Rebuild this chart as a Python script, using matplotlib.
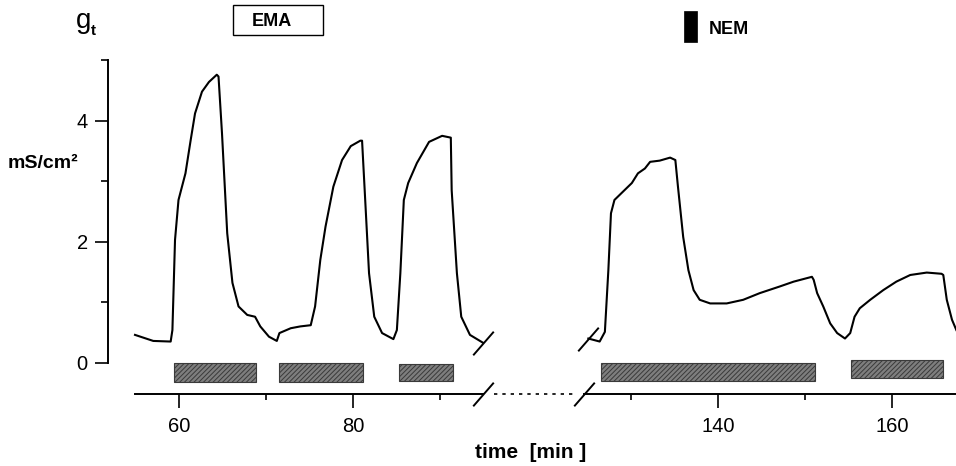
import matplotlib
matplotlib.use('Agg')
import matplotlib.pyplot as plt
from matplotlib.patches import Rectangle
from matplotlib.lines import Line2D
from matplotlib.path import Path

plt.rcParams['font.family'] = ['Liberation Sans', 'DejaVu Sans']
plt.rcParams['hatch.linewidth'] = 0.7
plt.rcParams['hatch.color'] = '#2a2a2a'

# ---------------- data ----------------
left_t = [54.9, 57.0, 59.0, 59.2, 59.5, 59.9, 60.3, 60.7, 61.3, 61.8, 62.6, 63.4, 64.3, 64.5,
          64.9, 65.5, 66.1, 66.8, 67.8, 68.7, 69.3, 70.3, 71.2, 71.5, 72.8, 73.9, 75.1,
          75.6, 76.2, 76.8, 77.7, 78.7, 79.7, 80.8, 81.0, 81.4, 81.8, 82.4, 83.3, 84.6,
          85.0, 85.4, 85.8, 86.3, 87.3, 88.7, 90.2, 91.2, 91.3, 91.9, 92.4, 93.4, 94.9]
left_g = [0.46, 0.36, 0.35, 0.54, 2.03, 2.69, 2.91, 3.13, 3.68, 4.12, 4.48, 4.64, 4.76, 4.73,
          3.79, 2.14, 1.32, 0.93, 0.79, 0.76, 0.60, 0.43, 0.36, 0.49, 0.57, 0.60, 0.62,
          0.93, 1.70, 2.25, 2.91, 3.35, 3.58, 3.67, 3.67, 2.58, 1.48, 0.76, 0.49, 0.39,
          0.54, 1.48, 2.69, 2.97, 3.30, 3.65, 3.75, 3.72, 2.85, 1.48, 0.76, 0.46, 0.33]

right_t = [125.1, 126.4, 127.0, 127.4, 127.7, 128.1, 129.1, 130.1, 130.8, 131.6, 132.2, 133.3,
           134.5, 135.1, 135.4, 136.0, 136.6, 137.2, 137.9, 139.1, 141.0, 142.9, 144.8,
           147.1, 148.7, 150.8, 151.0, 151.4, 152.1, 152.9, 153.7, 154.6, 155.2, 155.7,
           156.3, 157.5, 159.0, 160.5, 162.1, 164.0, 165.7, 165.9, 166.3, 166.9, 167.4]
right_g = [0.40, 0.35, 0.51, 1.53, 2.47, 2.69, 2.83, 2.97, 3.13, 3.21, 3.32, 3.34,
           3.39, 3.35, 2.91, 2.08, 1.53, 1.20, 1.04, 0.98, 0.98, 1.04, 1.15,
           1.26, 1.34, 1.42, 1.37, 1.15, 0.93, 0.65, 0.49, 0.40, 0.49, 0.76,
           0.90, 1.04, 1.20, 1.34, 1.45, 1.49, 1.47, 1.45, 1.04, 0.71, 0.54]

left_bar_start = [59.4, 71.4, 85.3]
left_bar_end = [68.8, 81.1, 91.5]
left_bar_low = [-0.32, -0.32, -0.30]
left_bar_high = [0.0, 0.0, -0.02]

right_bar_start = [126.6, 155.3]
right_bar_end = [151.1, 165.9]
right_bar_low = [-0.30, -0.25]
right_bar_high = [0.0, 0.045]

left_xlim = (54.9, 94.9)
right_xlim = (124.6, 167.36)
ylim = (-0.522, 5.995)

left_major = [60, 80]
left_minor = [70, 90]
right_major = [140, 160]
right_minor = [130, 150]
y_major = [0, 2, 4]
y_minor = [1, 3, 5]

# ---------------- figure ----------------
W, H = 956, 466
fig = plt.figure(figsize=(W / 100, H / 100), dpi=100)


def fx(px):
    return px / W


def fy(py):
    return 1 - py / H


axis_y = 394.3
ax1 = fig.add_axes([fx(135), fy(axis_y), fx(483) - fx(135), axis_y / H])
ax2 = fig.add_axes([fx(584), fy(axis_y), fx(956) - fx(584), axis_y / H])

for ax in (ax1, ax2):
    ax.patch.set_alpha(0)
    ax.spines['top'].set_visible(False)
    ax.spines['right'].set_visible(False)
    ax.spines['bottom'].set_linewidth(1.4)
    ax.set_ylim(*ylim)
    ax.tick_params(axis='x', which='major', length=10, width=1.2, labelsize=14.5,
                   pad=6, direction='out')
    ax.tick_params(axis='x', which='minor', length=4, width=1.2, direction='out')

ax1.set_xlim(*left_xlim)
ax2.set_xlim(*right_xlim)
ax1.set_xticks(left_major)
ax1.set_xticks(left_minor, minor=True)
ax2.set_xticks(right_major)
ax2.set_xticks(right_minor, minor=True)

ax1.spines['left'].set_position(('outward', 27 * 0.72))
ax1.spines['left'].set_bounds(0, 5)
ax1.spines['left'].set_linewidth(1.4)
ax1.set_yticks(y_major)
ax1.set_yticks(y_minor, minor=True)
ax1.tick_params(axis='y', which='major', length=9.5, width=1.2, labelsize=14.5, pad=5)
ax1.tick_params(axis='y', which='minor', length=5, width=1.2)

ax2.spines['left'].set_visible(False)
ax2.tick_params(axis='y', which='both', left=False, labelleft=False)

# bars
bar_style = dict(align='edge', facecolor='#7e7e7e', edgecolor='#3a3a3a',
                 hatch='///////', linewidth=0.8)
for s, e, lo, hi in zip(left_bar_start, left_bar_end, left_bar_low, left_bar_high):
    ax1.bar(s, hi - lo, width=e - s, bottom=lo, **bar_style)
for s, e, lo, hi in zip(right_bar_start, right_bar_end, right_bar_low, right_bar_high):
    ax2.bar(s, hi - lo, width=e - s, bottom=lo, **bar_style)

# curves
ax1.plot(left_t, left_g, color='black', lw=1.5, clip_on=False, solid_joinstyle='round')
ax2.plot(right_t, right_g, color='black', lw=1.5, clip_on=False, solid_joinstyle='round')

# break marks
slash = Path([(-1, -1.15), (1, 1.15)], [Path.MOVETO, Path.LINETO])
mk = dict(marker=slash, ms=17, mew=1.4, color='black', clip_on=False, ls='none')
ax1.plot([left_xlim[1]], [ylim[0]], **mk)
ax2.plot([right_xlim[0]], [ylim[0]], **mk)
ax1.plot([left_t[-1]], [left_g[-1]], **mk)
ax2.plot([right_t[0]], [right_g[0]], **mk)

fig.add_artist(Line2D([fx(494), fx(573)], [fy(axis_y), fy(axis_y)], ls=(0, (2, 3)),
                      lw=1.2, color='black'))

# texts
fig.text(fx(76), fy(28), 'g', fontsize=20, ha='left', va='baseline')
fig.text(fx(91), fy(35), 't', fontsize=11, fontweight='bold', ha='left', va='baseline')
fig.text(fx(8), fy(164), 'mS/cm²', fontsize=14, fontweight='bold', ha='left', va='center')
fig.text(fx(475), fy(452), 'time  [min ]', fontsize=15, fontweight='bold', ha='left',
         va='center')

fig.add_artist(Rectangle((fx(233), fy(35)), 90 / W, 30 / H, transform=fig.transFigure,
                         fill=False, lw=1.0, edgecolor='black'))
fig.text(fx(272), fy(22), 'EMA', fontsize=13, fontweight='bold', ha='center', va='center')
fig.add_artist(Rectangle((fx(684), fy(42)), 13 / W, 31 / H, transform=fig.transFigure,
                         facecolor='black', edgecolor='black', lw=0.5))
fig.text(fx(709), fy(29), 'NEM', fontsize=13, fontweight='bold', ha='left', va='center')

fig.savefig('out.png', dpi=100)
